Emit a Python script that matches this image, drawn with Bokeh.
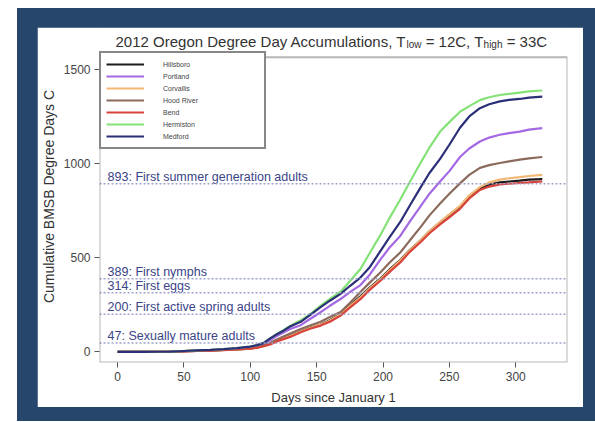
from bokeh.plotting import figure
from bokeh.models import Range1d, FixedTicker, Span, Legend, LegendItem, BoxAnnotation
from bokeh.layouts import column
from bokeh.core.properties import value
from bokeh.embed import file_html
from bokeh.resources import INLINE

# ---------------- data ----------------
days = [0, 10, 20, 30, 40, 50, 60, 70, 80, 90, 100, 105, 110, 115, 120, 125, 130,
        138, 145, 153, 160, 168, 175, 183, 190, 198, 205, 213, 220, 228, 235, 243,
        250, 258, 265, 273, 280, 288, 295, 303, 310, 320]

hillsboro = [0, 0, 0, 1, 2, 4, 6, 8, 11, 14, 18, 24, 33, 44, 60, 72, 86,
             110, 128, 146, 168, 202, 248, 295, 342, 390, 438, 488, 540, 590, 640, 688,
             728, 772, 828, 868, 888, 900, 905, 910, 915, 918]
portland = [0, 0, 0, 1, 2, 4, 7, 10, 13, 18, 25, 32, 42, 62, 85, 103, 122,
            142, 175, 211, 245, 281, 318, 355, 410, 490, 555, 616, 690, 770, 840, 905,
            960, 1035, 1080, 1117, 1138, 1153, 1162, 1170, 1180, 1188]
corvallis = [0, 0, 0, 1, 2, 4, 6, 8, 11, 14, 18, 23, 31, 42, 58, 72, 85,
             108, 127, 145, 166, 200, 244, 290, 338, 386, 434, 485, 538, 590, 640, 690,
             730, 775, 830, 875, 900, 915, 922, 928, 934, 940]
hood_river = [0, 0, 0, 1, 2, 4, 6, 8, 11, 15, 20, 26, 34, 48, 66, 82, 98,
              122, 140, 160, 185, 212, 260, 318, 368, 422, 475, 528, 590, 660, 725, 788,
              840, 895, 940, 977, 992, 1003, 1012, 1021, 1028, 1035]
bend = [0, 0, 0, 1, 2, 3, 5, 7, 10, 13, 17, 22, 30, 40, 55, 68, 80,
        105, 123, 140, 160, 193, 235, 280, 330, 378, 425, 475, 530, 581, 630, 677,
        715, 760, 815, 860, 878, 889, 893, 897, 900, 905]
hermiston = [0, 0, 0, 1, 2, 5, 8, 11, 15, 20, 28, 36, 48, 72, 95, 115, 138,
             168, 200, 246, 282, 320, 375, 440, 525, 620, 712, 809, 900, 1000, 1085, 1170,
             1220, 1275, 1305, 1337, 1352, 1364, 1370, 1377, 1383, 1388]
medford = [0, 0, 0, 1, 2, 5, 8, 11, 15, 20, 28, 36, 47, 72, 94, 113, 135,
           160, 196, 238, 272, 308, 350, 395, 450, 535, 610, 690, 775, 870, 950, 1025,
           1100, 1190, 1250, 1294, 1315, 1330, 1338, 1343, 1350, 1355]

site_names = ["Hillsboro", "Portland", "Corvallis", "Hood River", "Bend", "Hermiston", "Medford"]
site_values = [hillsboro, portland, corvallis, hood_river, bend, hermiston, medford]
site_colors = ["#1c1c1c", "#a469e2", "#f3b774", "#8c6b5d", "#d8433c", "#84e277", "#2b2f78"]

thresholds = [893, 389, 314, 200, 47]
threshold_names = ["First summer generation adults", "First nymphs", "First eggs",
                   "First active spring adults", "Sexually mature adults"]

x_ticks = [0, 50, 100, 150, 200, 250, 300]
y_ticks = [0, 500, 1000, 1500]

# title pieces (T_low, T_high subscripts); a space precedes pieces flagged below
title_parts = ["2012 Oregon Degree Day Accumulations, T", "low", "= 12C, T", "high", "= 33C"]
title_is_sub = [False, True, False, True, False]
title_space_before = [False, False, True, False, True]

FONT = "Liberation Sans"
NAVY = "#26466c"

# ---------------- geometry ----------------
FIG_W, FIG_H = 546, 380
MB_L, MB_R, MB_T, MB_B = 62, 16, 3, 43
FRAME_H = FIG_H - MB_T - MB_B
BOX_GAP = 27                       # px between frame top and drawn box top
X_LO, X_HI = -13.6, 339
Y_LO, Y_BOX = -56, 1564
UNITS_PER_PX = (Y_BOX - Y_LO) / (FRAME_H - BOX_GAP)
Y_HI = Y_BOX + BOX_GAP * UNITS_PER_PX

p = figure(width=FIG_W, height=FIG_H, output_backend="svg", toolbar_location=None,
           tools="",
           x_range=Range1d(X_LO, X_HI), y_range=Range1d(Y_LO, Y_HI),
           min_border_left=MB_L, min_border_right=MB_R,
           min_border_top=MB_T, min_border_bottom=MB_B,
           margin=(19, 12, 14, 20),
           outline_line_color="white", outline_line_width=1,
           background_fill_color="white", border_fill_color="white")
p.title.visible = False
p.grid.visible = False

for ax in (p.xaxis[0], p.yaxis[0]):
    ax.axis_line_color = None
    ax.major_tick_in = 0
    ax.major_tick_out = 5
    ax.major_tick_line_color = "#555555"
    ax.minor_tick_line_color = None
    ax.major_label_text_font = FONT
    ax.major_label_text_font_size = "12px"
    ax.major_label_text_color = "#444444"
    ax.axis_label_text_font = FONT
    ax.axis_label_text_font_style = "normal"
    ax.axis_label_text_color = "#333333"

p.xaxis.ticker = FixedTicker(ticks=x_ticks)
p.yaxis.ticker = FixedTicker(ticks=y_ticks)
p.xaxis.axis_label = "Days since January 1"
p.yaxis.axis_label = "Cumulative BMSB Degree Days C"
p.xaxis.axis_label_text_font_size = "13px"
p.yaxis.axis_label_text_font_size = "14px"
p.xaxis.major_label_standoff = 4
p.xaxis.axis_label_standoff = 6
p.yaxis.major_label_standoff = 4
p.yaxis.axis_label_standoff = 4

# threshold lines and labels
for v in thresholds:
    p.add_layout(Span(location=v, dimension="width", line_color="#9ea3cc",
                      line_dash="2 2", line_width=1.5))
p.text(x=[-7.5] * len(thresholds), y=thresholds,
       text=[f"{v}: {n}" for v, n in zip(thresholds, threshold_names)],
       text_font=value(FONT), text_font_size=value("12.5px"), text_color="#3a4488",
       text_baseline="bottom", text_align="left")

# series
items = []
for name, vals, col in zip(site_names, site_values, site_colors):
    r = p.line(days, vals, line_color=col, line_width=2.2)
    items.append(LegendItem(label=name, renderers=[r]))

# the boxed plotting region
p.add_layout(BoxAnnotation(left=X_LO, right=X_HI, bottom=Y_LO, top=Y_BOX,
                           fill_alpha=0, line_color="#111111", line_width=2,
                           level="overlay"))

LEG_PAD, ROW_H, N = 5, 12, len(site_names)
legend_h = 2 * LEG_PAD + ROW_H * N
legend = Legend(items=items, location=(0, FRAME_H - BOX_GAP - legend_h),
                margin=0, padding=LEG_PAD, spacing=0,
                glyph_width=38, glyph_height=ROW_H, label_height=ROW_H,
                label_width=96, label_standoff=19,
                label_text_font=FONT, label_text_font_size="7px",
                label_text_color="#444444",
                border_line_color="#111111", border_line_width=2,
                background_fill_color="white", background_fill_alpha=1)
p.add_layout(legend)

# title with subscripts, built from text pieces
ARIAL = {" ": 278, ",": 278, "=": 584, "0": 556, "1": 556, "2": 556, "3": 556,
         "O": 778, "D": 722, "A": 667, "T": 611, "C": 722,
         "a": 556, "c": 500, "e": 556, "g": 556, "h": 556, "i": 222, "l": 222,
         "m": 833, "n": 556, "o": 556, "r": 333, "s": 500, "t": 278, "u": 556,
         "w": 722, "y": 500}


def text_width(s, size):
    return sum(ARIAL.get(ch, 556) for ch in s) * size / 1000.0


offsets, sizes, dys = [], [], []
cur = 16.0
for txt, sub, sp in zip(title_parts, title_is_sub, title_space_before):
    size = 10 if sub else 15
    if sp:
        cur += text_width(" ", size)
    offsets.append(cur)
    sizes.append(f"{size}px")
    dys.append(3 if sub else 0)
    cur += text_width(txt, size)

title_y = Y_BOX + 16 * UNITS_PER_PX
p.text(x=[X_LO] * len(title_parts), y=[title_y] * len(title_parts), text=title_parts,
       x_offset=offsets, y_offset=dys, text_font_size=sizes,
       text_font=value(FONT), text_color="#333333",
       text_baseline="alphabetic", text_align="left")

layout = column(p, margin=(8, 0, 0, 17), styles={"background-color": NAVY})

open("out.html", "w").write(file_html(layout, INLINE))
